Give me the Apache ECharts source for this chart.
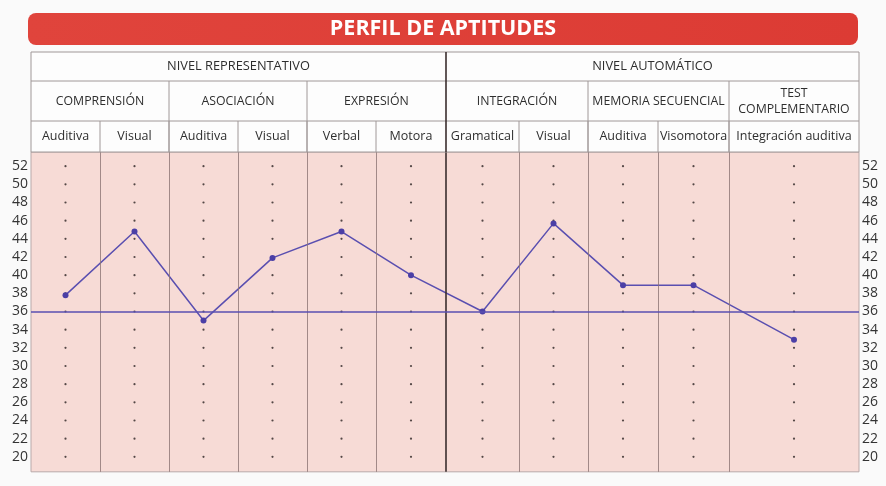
<!DOCTYPE html>
<html>
<head>
<meta charset="utf-8">
<script src="https://cdn.jsdelivr.net/npm/echarts@6/dist/echarts.min.js"></script>
<style>
    html, body {margin: 0; padding: 0; background: #fafafa;}
    #main {width: 886px; height: 486px;}
</style>
</head>
<body>
<div id="main"></div>
<script>
// 数据
var levels = ['NIVEL REPRESENTATIVO', 'NIVEL AUTOMÁTICO'];
var levelSpans = [6, 5];
var groups = ['COMPRENSIÓN', 'ASOCIACIÓN', 'EXPRESIÓN', 'INTEGRACIÓN', 'MEMORIA SECUENCIAL', 'TEST\nCOMPLEMENTARIO'];
var groupSpans = [2, 2, 2, 2, 2, 1];
var categories = ['Auditiva', 'Visual', 'Auditiva', 'Visual', 'Verbal', 'Motora',
    'Gramatical', 'Visual', 'Auditiva', 'Visomotora', 'Integración auditiva'];
var scores = [37.8, 44.8, 35.0, 41.9, 44.8, 40.0, 36.0, 45.7, 38.9, 38.9, 32.9];
var yTicks = [20, 22, 24, 26, 28, 30, 32, 34, 36, 38, 40, 42, 44, 46, 48, 50, 52];
var referenceValue = 36;

// 版面（列宽，像素比例）
var colWidths = [69, 69, 69, 69, 69, 70, 73, 69, 70, 71, 130];
var edges = [0];
for (var i = 0; i < colWidths.length; i++) {
    edges.push(edges[i] + colWidths[i]);
}
var total = edges[edges.length - 1];
var centers = colWidths.map(function (w, i) {
    return edges[i] + w / 2;
});

var font = '"Open Sans", "Noto Sans", sans-serif';
var purple = '#5a4fb0';
var plotTop = 53.56, plotBottom = 18.35;

var lineData = [];
for (var i = 0; i < scores.length; i++) {
    lineData.push([centers[i], scores[i]]);
}
var dotData = [];
centers.forEach(function (c) {
    yTicks.forEach(function (t) {
        dotData.push([c, t]);
    });
});

// 列分隔线
var colLines = [];
for (var i = 1; i < edges.length - 1; i++) {
    var thick = (i === levelSpans[0]);
    colLines.push([
        {
            coord: [edges[i], plotBottom],
            lineStyle: {type: 'solid', color: thick ? '#3a2e2e' : '#8c7474', width: thick ? 1.6 : 0.8}
        },
        {coord: [edges[i], plotTop]}
    ]);
}

var yAxisBase = function (pos) {
    return {
        type: 'value',
        position: pos,
        min: 18,
        max: 54,
        interval: 2,
        axisLine: {show: false},
        axisTick: {show: false},
        splitLine: {show: false},
        axisLabel: {
            margin: 3,
            fontSize: 14,
            fontFamily: font,
            color: '#333',
            formatter: function (v) {
                return (v < yTicks[0] || v > yTicks[yTicks.length - 1]) ? '' : v;
            }
        }
    };
};

var option = {
    backgroundColor: '#fafafa',
    animation: false,
    grid: {left: 31, right: 27, top: 148, bottom: 11},
    xAxis: {type: 'value', min: 0, max: total, show: false},
    yAxis: [yAxisBase('left'), yAxisBase('right')],
    series: [
        {
            // 底色和列线
            type: 'line',
            data: [],
            z: 1,
            markArea: {
                silent: true,
                itemStyle: {color: '#f7dbd6', borderColor: '#b9a9a9', borderWidth: 1},
                data: [[{coord: [0, plotBottom]}, {coord: [total, plotTop]}]]
            },
            markLine: {
                silent: true,
                symbol: 'none',
                label: {show: false},
                lineStyle: {type: 'solid'},
                data: colLines
            }
        },
        {
            type: 'scatter',
            data: dotData,
            symbolSize: 2.2,
            itemStyle: {color: '#2a2222'},
            silent: true,
            z: 2
        },
        {
            type: 'line',
            data: lineData,
            z: 4,
            symbol: 'circle',
            symbolSize: 6,
            lineStyle: {color: purple, width: 1.5},
            itemStyle: {color: '#4b3fa6'},
            markLine: {
                silent: true,
                symbol: 'none',
                label: {show: false},
                lineStyle: {color: purple, width: 1.5, type: 'solid'},
                data: [{yAxis: referenceValue}]
            }
        }
    ]
};

var myChart = echarts.init(document.getElementById('main'));
myChart.setOption(option);

// 表头
function px(v) {
    return myChart.convertToPixel({xAxisIndex: 0}, v);
}
var rows = [52, 81, 121, 152];
var left = px(0), right = px(total);
var graphics = [];
graphics.push({
    type: 'rect', z: 10,
    shape: {x: 28, y: 13, width: 830, height: 32, r: 8},
    style: {
        fill: new echarts.graphic.LinearGradient(0, 0, 1, 0, [
            {offset: 0, color: '#e0443c'}, {offset: 1, color: '#dc3b34'}
        ])
    }
});
graphics.push({
    type: 'text', z: 11,
    x: 443, y: 29,
    style: {text: 'PERFIL DE APTITUDES', fill: '#fff', font: 'bold 21.5px ' + font, align: 'center', verticalAlign: 'middle'}
});
graphics.push({
    type: 'rect', z: 10,
    shape: {x: left, y: rows[0], width: right - left, height: rows[3] - rows[0]},
    style: {fill: '#fdfdfd'}
});
function hline(y) {
    graphics.push({type: 'line', z: 12, shape: {x1: left, y1: y, x2: right, y2: y}, style: {stroke: '#a09898', lineWidth: 1}});
}
function vline(x, y1, y2, dark) {
    graphics.push({type: 'line', z: 12, shape: {x1: x, y1: y1, x2: x, y2: y2},
        style: {stroke: dark ? '#3a2e2e' : '#a09898', lineWidth: dark ? 1.6 : 1}});
}
function label(text, x, y, size) {
    graphics.push({type: 'text', z: 13, x: x, y: y,
        style: {text: text, fill: '#2e2e2e', font: size + 'px ' + font, align: 'center', verticalAlign: 'middle', lineHeight: 16}});
}
rows.forEach(hline);
vline(left, rows[0], rows[3]);
vline(right, rows[0], rows[3]);

// 第一行
var k = 0;
levels.forEach(function (name, i) {
    var a = edges[k], b = edges[k + levelSpans[i]];
    label(name, (px(a) + px(b)) / 2, (rows[0] + rows[1]) / 2, 12.8);
    if (k > 0) vline(px(a), rows[0], rows[3], true);
    k += levelSpans[i];
});
// 第二行
k = 0;
groups.forEach(function (name, i) {
    var a = edges[k], b = edges[k + groupSpans[i]];
    label(name, (px(a) + px(b)) / 2, (rows[1] + rows[2]) / 2, 12.3);
    if (k > 0 && k !== levelSpans[0]) vline(px(a), rows[1], rows[3]);
    k += groupSpans[i];
});
// 第三行
categories.forEach(function (name, i) {
    label(name, px(centers[i]), (rows[2] + rows[3]) / 2, 12.5);
    if (i > 0 && i !== levelSpans[0]) vline(px(edges[i]), rows[2], rows[3]);
});

myChart.setOption({graphic: graphics});
</script>
</body>
</html>
